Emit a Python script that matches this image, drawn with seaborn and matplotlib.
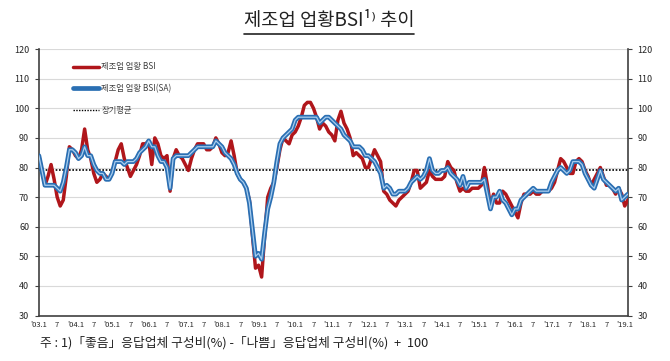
import numpy as np
import pandas as pd
import matplotlib.pyplot as plt
import seaborn as sns
from matplotlib.lines import Line2D

# monthly data 2003.1 ~ 2019.2
bsi = [84, 79, 74, 77, 81, 76, 70, 67, 69, 77, 87, 86,   # 2003
       84, 83, 86, 93, 86, 83, 78, 75, 76, 78, 77, 76,   # 2004
       78, 82, 86, 88, 83, 80, 77, 79, 81, 84, 88, 88,   # 2005
       89, 81, 90, 88, 84, 83, 84, 72, 83, 86, 84, 83,   # 2006
       81, 79, 83, 86, 88, 88, 88, 86, 86, 87, 90, 88,   # 2007
       85, 84, 85, 89, 84, 78, 76, 75, 73, 69, 57, 46,   # 2008
       47, 43, 57, 70, 73, 75, 80, 86, 90, 89, 88, 91,   # 2009
       92, 94, 97, 101, 102, 102, 100, 97, 93, 95, 94, 92,  # 2010
       91, 89, 96, 99, 95, 93, 90, 84, 85, 84, 83, 80,   # 2011
       80, 83, 86, 84, 82, 72, 71, 69, 68, 67, 69, 70,   # 2012
       71, 72, 75, 79, 79, 73, 74, 75, 79, 77, 76, 76,   # 2013
       76, 77, 82, 80, 79, 75, 72, 73, 72, 72, 73, 73,   # 2014
       73, 74, 80, 74, 67, 71, 68, 68, 72, 71, 69, 67,   # 2015
       65, 63, 68, 71, 71, 71, 72, 71, 71, 72, 72, 72,   # 2016
       73, 75, 79, 83, 82, 80, 78, 78, 82, 83, 82, 79,   # 2017
       77, 74, 76, 78, 80, 77, 74, 74, 73, 71, 73, 71,   # 2018
       67, 69]                                           # 2019

bsi_sa = [84, 79, 74, 74, 74, 74, 73, 72, 75, 80, 86, 86,   # 2003
          85, 83, 84, 87, 84, 84, 81, 79, 78, 78, 76, 76,   # 2004
          78, 82, 82, 82, 81, 82, 82, 82, 83, 85, 86, 87,   # 2005
          89, 87, 87, 84, 82, 82, 80, 73, 83, 84, 84, 84,   # 2006
          84, 84, 85, 86, 87, 87, 87, 87, 87, 87, 89, 88,   # 2007
          87, 85, 84, 83, 81, 78, 76, 75, 73, 68, 59, 50,   # 2008
          51, 49, 58, 66, 70, 75, 82, 88, 90, 91, 92, 93,   # 2009
          96, 97, 97, 97, 97, 97, 97, 97, 95, 96, 97, 97,   # 2010
          96, 95, 94, 93, 91, 90, 89, 87, 87, 87, 86, 84,   # 2011
          84, 83, 82, 80, 78, 73, 74, 73, 71, 71, 72, 72,   # 2012
          72, 73, 75, 76, 77, 76, 77, 79, 83, 79, 78, 78,   # 2013
          79, 79, 80, 78, 77, 76, 74, 77, 73, 75, 75, 75,   # 2014
          75, 75, 76, 71, 66, 70, 70, 72, 69, 68, 66, 64,   # 2015
          66, 66, 69, 70, 71, 72, 73, 72, 72, 72, 72, 72,   # 2016
          75, 77, 79, 80, 79, 78, 79, 82, 82, 82, 81, 78,   # 2017
          76, 74, 73, 76, 79, 76, 75, 74, 73, 72, 73, 69,   # 2018
          70, 71]                                           # 2019

long_avg = 79.3
year_labels = ["'03", "'04", "'05", "'06", "'07", "'08", "'09", "'10", "'11",
               "'12", "'13", "'14", "'15", "'16", "'17", "'18", "'19"]

df = pd.DataFrame({"t": np.arange(len(bsi)), "bsi": bsi, "bsi_sa": bsi_sa})

sns.set_style("white")
plt.rcParams['font.family'] = ['Noto Sans CJK KR', 'DejaVu Sans']

fig = plt.figure(figsize=(6.7, 3.61), dpi=100)
ax = fig.add_axes([0.058, 0.126, 0.879, 0.738])

red = "#b0161b"
blue = "#2a6fb3"

ax.axhline(long_avg, color="black", lw=1.2, ls=(0, (1, 1)), zorder=2)
sns.lineplot(data=df, x="t", y="bsi", color=red, lw=2.5, ax=ax, zorder=3)
sns.lineplot(data=df, x="t", y="bsi_sa", color=blue, lw=3.4, ax=ax, zorder=4)
sns.lineplot(data=df, x="t", y="bsi_sa", color="#a9cdee", lw=0.9, ax=ax, zorder=5)

ax.set_xlim(0, len(bsi) - 1)
ax.set_ylim(30, 120)
ax.set_yticks(range(30, 121, 10))
ax.yaxis.grid(True, color="#d9d9d9", lw=0.8)
ax.set_axisbelow(True)

xt = list(range(0, len(bsi), 6))
xl = []
for i in xt:
    xl.append(year_labels[i // 12] + ".1" if i % 12 == 0 else "7")
ax.set_xticks(xt)
ax.set_xticklabels(xl, fontsize=5.5)
ax.set_xlabel("")
ax.set_ylabel("")

ax.spines["top"].set_visible(False)
for s in ["left", "right", "bottom"]:
    ax.spines[s].set_color("#404040")
    ax.spines[s].set_linewidth(1.2)

ax.tick_params(axis="x", direction="in", length=3, width=0.8, color="#404040", pad=4)
ax.tick_params(axis="y", direction="out", length=3, width=0.8, color="#404040",
               labelsize=6.5, left=True, right=True, labelleft=True, labelright=True, pad=4)

# legend
handles = [Line2D([], [], color=red, lw=2.5),
           Line2D([], [], color=blue, lw=3.4),
           Line2D([], [], color="black", lw=1.0, ls=(0, (1, 1)))]
labels = ["제조업 업황 BSI", "제조업 업황 BSI(SA)", "장기평균"]
leg = ax.legend(handles, labels, loc="upper left", bbox_to_anchor=(0.058, 0.95),
                frameon=False, fontsize=6, handlelength=3.1, handletextpad=0.3,
                labelspacing=1.5, borderpad=0, borderaxespad=0)
for t in leg.get_texts():
    t.set_color("#404040")

# title with underline
title = fig.text(0.491, 0.942, "제조업 업황BSI¹⁾ 추이", ha="center", va="center",
                 fontsize=13.5, color="#222222")
fig.canvas.draw()
bb = title.get_window_extent().transformed(fig.transFigure.inverted())
fig.add_artist(Line2D([bb.x0, bb.x1], [bb.y0 - 0.006, bb.y0 - 0.006],
                      color="#222222", lw=1.2, transform=fig.transFigure))

fig.text(0.06, 0.05, "주 : 1)「좋음」응답업체 구성비(%) -「나쁨」응답업체 구성비(%)  +  100",
         ha="left", va="center", fontsize=9.2, color="#222222")

fig.savefig("out.png", dpi=100)
